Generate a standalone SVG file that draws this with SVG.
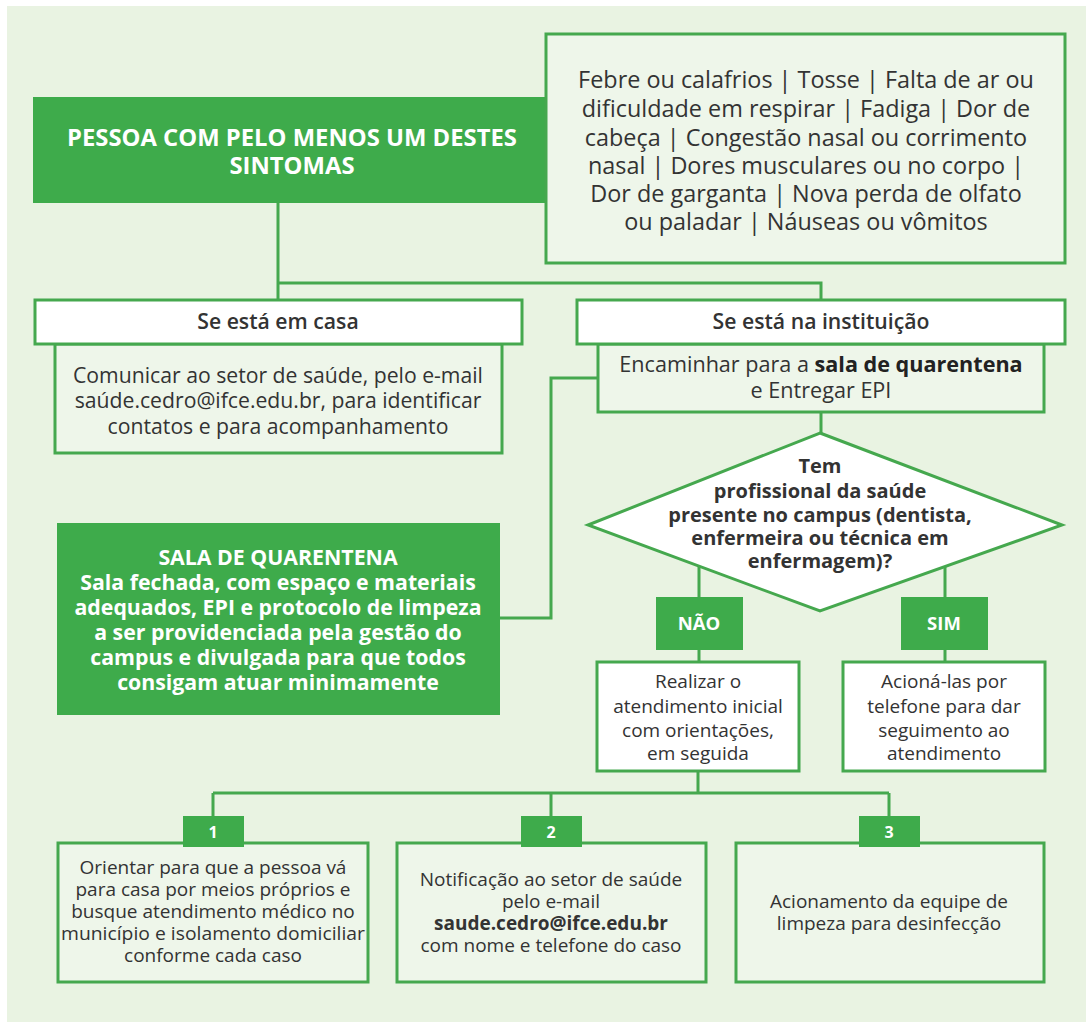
<svg xmlns="http://www.w3.org/2000/svg" width="1086" height="1022" viewBox="0 0 1086 1022">
<style>
.bg{fill:#e9f3e2}
.g{fill:#3eab4b}
.box{fill:#eef6ea;stroke:#45a84e;stroke-width:3}
.wbox{fill:#ffffff;stroke:#45a84e;stroke-width:3}
.ln{fill:none;stroke:#45a84e;stroke-width:3}
text{font-family:"Open Sans","Noto Sans","DejaVu Sans",sans-serif;text-anchor:middle}
.wt{fill:#ffffff;font-weight:700}
.dt{fill:#333333}
.b{font-weight:700}
.sb{font-weight:600}
</style>
<rect x="0" y="0" width="1086" height="1022" fill="#ffffff"/>
<rect class="bg" x="7" y="6" width="1079" height="1016"/>

<g id="connectors">
<path class="ln" d="M278,203 V300 M278,283 H821 V300"/>
<path class="ln" d="M821,412 V433"/>
<path class="ln" d="M598,378 H551 V618 H500"/>
<path class="ln" d="M699,566 V597 M699,650 V662"/>
<path class="ln" d="M945,567 V597 M945,650 V662"/>
<path class="ln" d="M698,771 V793 M213,793 H889 M213,793 V816 M551,793 V816 M889,793 V816"/>
</g>

<g id="title">
<rect class="g" x="33" y="97" width="514" height="106"/>
<text class="wt" font-size="23.8" x="292" y="146">PESSOA COM PELO MENOS UM DESTES</text>
<text class="wt" font-size="23.8" x="292" y="174">SINTOMAS</text>
</g>

<g id="sintomas">
<rect class="box" x="546" y="34" width="519" height="229"/>
<text class="dt" font-size="23.4" x="806" y="88">Febre ou calafrios | Tosse | Falta de ar ou</text>
<text class="dt" font-size="23.4" x="806" y="117">dificuldade em respirar | Fadiga | Dor de</text>
<text class="dt" font-size="23.4" x="806" y="146">cabeça | Congestão nasal ou corrimento</text>
<text class="dt" font-size="23.4" x="806" y="174">nasal | Dores musculares ou no corpo |</text>
<text class="dt" font-size="23.4" x="806" y="202">Dor de garganta | Nova perda de olfato</text>
<text class="dt" font-size="23.4" x="806" y="230">ou paladar | Náuseas ou vômitos</text>
</g>

<g id="casa">
<rect class="box" x="55" y="344" width="447" height="109"/>
<text class="dt" font-size="21.2" x="278" y="383">Comunicar ao setor de saúde, pelo e-mail</text>
<text class="dt" font-size="21.2" x="278" y="408">saúde.cedro@ifce.edu.br, para identificar</text>
<text class="dt" font-size="21.2" x="278" y="434">contatos e para acompanhamento</text>
<rect class="wbox" x="35" y="300" width="487" height="44"/>
<text class="dt sb" font-size="21.2" x="278" y="329">Se está em casa</text>
</g>

<g id="instituicao">
<rect class="box" x="598" y="344" width="446" height="68"/>
<text class="dt" font-size="21.6" x="821" y="372">Encaminhar para a <tspan class="b" fill="#222222">sala de quarentena</tspan></text>
<text class="dt" font-size="21.6" x="821" y="398">e Entregar EPI</text>
<rect class="wbox" x="577" y="300" width="488" height="44"/>
<text class="dt sb" font-size="21.2" x="821" y="329">Se está na instituição</text>
</g>

<g id="sala">
<rect class="g" x="57" y="523" width="443" height="192"/>
<text class="wt" font-size="21.3" x="278" y="565">SALA DE QUARENTENA</text>
<text class="wt" font-size="21.3" x="278" y="590">Sala fechada, com espaço e materiais</text>
<text class="wt" font-size="21.3" x="278" y="615">adequados, EPI e protocolo de limpeza</text>
<text class="wt" font-size="21.3" x="278" y="640">a ser providenciada pela gestão do</text>
<text class="wt" font-size="21.3" x="278" y="665">campus e divulgada para que todos</text>
<text class="wt" font-size="21.3" x="278" y="690">consigam atuar minimamente</text>
</g>

<g id="pergunta">
<polygon class="wbox" points="820,433 1062,525 820,611 588,525"/>
<text class="dt b" font-size="20" x="820" y="473">Tem</text>
<text class="dt b" font-size="20" x="820" y="498">profissional da saúde</text>
<text class="dt b" font-size="20" x="820" y="522">presente no campus (dentista,</text>
<text class="dt b" font-size="20" x="820" y="545">enfermeira ou técnica em</text>
<text class="dt b" font-size="20" x="820" y="568">enfermagem)?</text>
</g>

<g id="nao">
<rect class="g" x="656" y="597" width="87" height="53"/>
<text class="wt" font-size="18.5" x="699" y="630">NÃO</text>
</g>

<g id="sim">
<rect class="g" x="901" y="597" width="87" height="53"/>
<text class="wt" font-size="18.5" x="944" y="630">SIM</text>
</g>

<g id="realizar">
<rect class="wbox" x="597" y="662" width="202" height="109"/>
<text class="dt" font-size="19" x="698" y="688">Realizar o</text>
<text class="dt" font-size="19" x="698" y="713">atendimento inicial</text>
<text class="dt" font-size="19" x="698" y="737">com orientações,</text>
<text class="dt" font-size="19" x="698" y="760">em seguida</text>
</g>

<g id="acionar">
<rect class="wbox" x="843" y="662" width="202" height="109"/>
<text class="dt" font-size="19" x="944" y="688">Acioná-las por</text>
<text class="dt" font-size="19" x="944" y="713">telefone para dar</text>
<text class="dt" font-size="19" x="944" y="737">seguimento ao</text>
<text class="dt" font-size="19" x="944" y="760">atendimento</text>
</g>

<g id="passo1">
<rect class="box" x="58" y="843" width="310" height="139"/>
<rect class="g" x="183" y="816" width="61" height="31"/>
<text class="wt" font-size="16" x="213" y="838">1</text>
<text class="dt" font-size="19" x="213" y="874">Orientar para que a pessoa vá</text>
<text class="dt" font-size="19" x="213" y="896">para casa por meios próprios e</text>
<text class="dt" font-size="19" x="213" y="918">busque atendimento médico no</text>
<text class="dt" font-size="19" x="213" y="940" textLength="304" lengthAdjust="spacingAndGlyphs">município e isolamento domiciliar</text>
<text class="dt" font-size="19" x="213" y="962">conforme cada caso</text>
</g>

<g id="passo2">
<rect class="box" x="397" y="843" width="309" height="139"/>
<rect class="g" x="521" y="816" width="61" height="31"/>
<text class="wt" font-size="16" x="551" y="838">2</text>
<text class="dt" font-size="19" x="551" y="886">Notificação ao setor de saúde</text>
<text class="dt" font-size="19" x="551" y="908">pelo e-mail</text>
<text class="dt b" font-size="19" x="551" y="930" fill="#222222">saude.cedro@ifce.edu.br</text>
<text class="dt" font-size="19" x="551" y="952">com nome e telefone do caso</text>
</g>

<g id="passo3">
<rect class="box" x="736" y="843" width="308" height="139"/>
<rect class="g" x="859" y="816" width="61" height="31"/>
<text class="wt" font-size="16" x="889" y="838">3</text>
<text class="dt" font-size="19" x="889" y="908">Acionamento da equipe de</text>
<text class="dt" font-size="19" x="889" y="930">limpeza para desinfecção</text>
</g>
</svg>
